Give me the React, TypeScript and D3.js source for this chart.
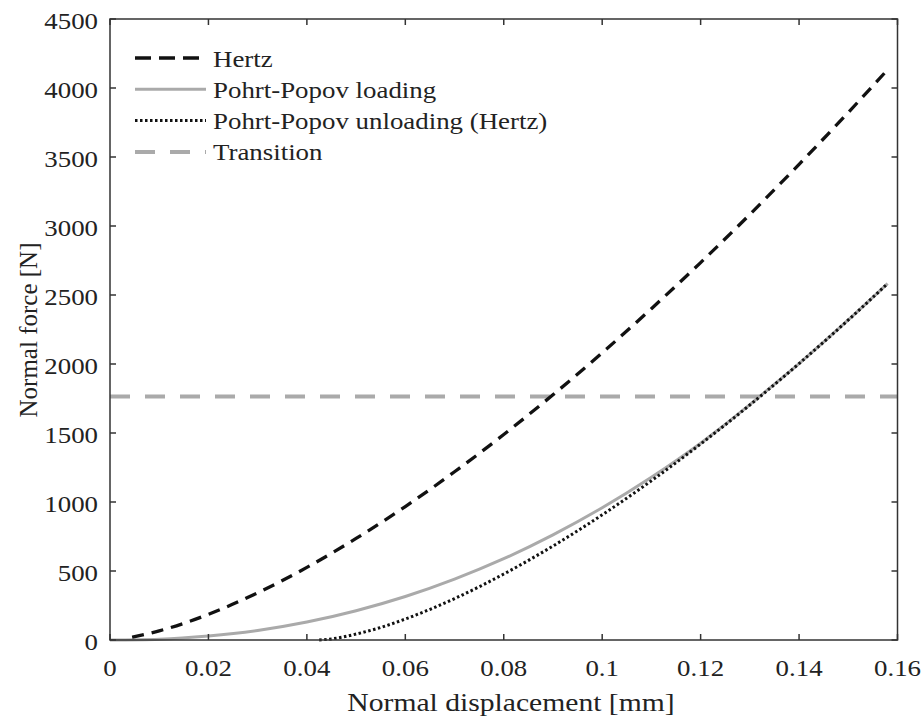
import React from "react";
import * as d3 from "d3";

const xTicks = [0, 0.02, 0.04, 0.06, 0.08, 0.1, 0.12, 0.14, 0.16];
const xTickLabels = ["0", "0.02", "0.04", "0.06", "0.08", "0.1", "0.12", "0.14", "0.16"];
const yTicks = [0, 500, 1000, 1500, 2000, 2500, 3000, 3500, 4000, 4500];

const hertzD = [0.0045, 0.01, 0.02, 0.03, 0.04, 0.05, 0.06, 0.07, 0.08, 0.09, 0.1, 0.11, 0.12, 0.13, 0.14, 0.15, 0.158];
const hertzF = [20, 66, 186, 342, 526, 736, 967, 1219, 1489, 1777, 2081, 2401, 2735, 3084, 3447, 3823, 4133];

const loadD = [0, 0.01, 0.02, 0.03, 0.04, 0.05, 0.06, 0.07, 0.08, 0.09, 0.1, 0.11, 0.12, 0.13, 0.132, 0.14, 0.15, 0.158];
const loadF = [0, 6, 29, 69, 130, 212, 315, 441, 589, 762, 958, 1179, 1426, 1705, 1765, 2003, 2319, 2583];

const unloadD = [0.0425, 0.045, 0.05, 0.055, 0.06, 0.07, 0.08, 0.09, 0.1, 0.11, 0.12, 0.13, 0.14, 0.15, 0.158];
const unloadF = [0, 8, 43, 91, 152, 300, 478, 681, 907, 1154, 1420, 1703, 2003, 2319, 2583];

const transitionF = 1765;
const transitionD = [0, 0.16];

const legendLabels = ["Hertz", "Pohrt-Popov loading", "Pohrt-Popov unloading (Hertz)", "Transition"];

const FONT = "Liberation Serif, Times New Roman, serif";

function T({ x, y, anchor, size, sx, children }: { x: number; y: number; anchor?: string; size?: number; sx?: number; children: React.ReactNode }) {
  return (
    <g transform={`translate(${x},${y}) scale(${sx || 1.12},1)`}>
      <text x={0} y={0} textAnchor={anchor || "start"} fontSize={size || 24}>{children}</text>
    </g>
  );
}

export default function App() {
  const W = 922, H = 718;
  const L = 110, R = 897.5, Tp = 19, B = 640;
  const x = d3.scaleLinear().domain([0, 0.16]).range([L, R]);
  const y = d3.scaleLinear().domain([0, 4500]).range([B, Tp]);
  const line = d3.line<[number, number]>().x(d => x(d[0])).y(d => y(d[1])).curve(d3.curveMonotoneX);

  const hertz = hertzD.map((d, i) => [d, hertzF[i]] as [number, number]);
  const load = loadD.map((d, i) => [d, loadF[i]] as [number, number]);
  const unload = unloadD.map((d, i) => [d, unloadF[i]] as [number, number]);
  const trans = transitionD.map(d => [d, transitionF] as [number, number]);

  const styles = [
    { stroke: "#111", width: 3.3, dash: "12,8" },
    { stroke: "#aaa", width: 3, dash: "" },
    { stroke: "#111", width: 3, dash: "2.5,2.5" },
    { stroke: "#aaa", width: 4, dash: "20,15" },
  ];
  const axisColor = "#333";
  const tl = 6;

  return (
    <svg width={W} height={H} style={{ position: "absolute", left: 0, top: 0, background: "#fff", fontFamily: FONT }}>
      <rect x={0} y={0} width={W} height={H} fill="#fff" />
      <g fill="none" strokeLinecap="butt">
        <path d={line(trans)!} stroke={styles[3].stroke} strokeWidth={styles[3].width} strokeDasharray={styles[3].dash} />
        <path d={line(load)!} stroke={styles[1].stroke} strokeWidth={styles[1].width} />
        <path d={line(unload)!} stroke={styles[2].stroke} strokeWidth={styles[2].width} strokeDasharray={styles[2].dash} />
        <path d={line(hertz)!} stroke={styles[0].stroke} strokeWidth={styles[0].width} strokeDasharray={styles[0].dash} />
      </g>
      <g stroke={axisColor} strokeWidth={1.5} fill="none">
        <rect x={L} y={Tp} width={R - L} height={B - Tp} />
        {xTicks.map((t, i) => (
          <g key={"xt" + i}>
            <line x1={x(t)} x2={x(t)} y1={B} y2={B - tl} />
            <line x1={x(t)} x2={x(t)} y1={Tp} y2={Tp + tl} />
          </g>
        ))}
        {yTicks.map((t, i) => (
          <g key={"yt" + i}>
            <line x1={L} x2={L + tl} y1={y(t)} y2={y(t)} />
            <line x1={R} x2={R - tl} y1={y(t)} y2={y(t)} />
          </g>
        ))}
      </g>
      <g style={{ fontFamily: FONT }} fill="#222">
        {xTicks.map((t, i) => (
          <T key={"xl" + i} x={x(t)} y={675.5} anchor="middle">{xTickLabels[i]}</T>
        ))}
        {yTicks.map((t, i) => (
          <T key={"yl" + i} x={98} y={y(t) + 10} anchor="end">{t}</T>
        ))}
        <T x={511} y={711} anchor="middle" size={26} sx={1.14}>Normal displacement [mm]</T>
        <text transform={`translate(37,330) rotate(-90)`} textAnchor="middle" fontSize={25}>Normal force [N]</text>
      </g>
      <g style={{ fontFamily: FONT }} fill="#222">
        {legendLabels.map((lab, i) => {
          const yy = 58 + i * 31.3;
          const s = styles[i];
          return (
            <g key={"lg" + i}>
              <line x1={135} x2={206} y1={yy} y2={yy} stroke={s.stroke} strokeWidth={s.width} strokeDasharray={i === 3 ? "20,15" : i === 0 ? "16,8" : s.dash} />
              <T x={213} y={yy + 8.5}>{lab}</T>
            </g>
          );
        })}
      </g>
    </svg>
  );
}
